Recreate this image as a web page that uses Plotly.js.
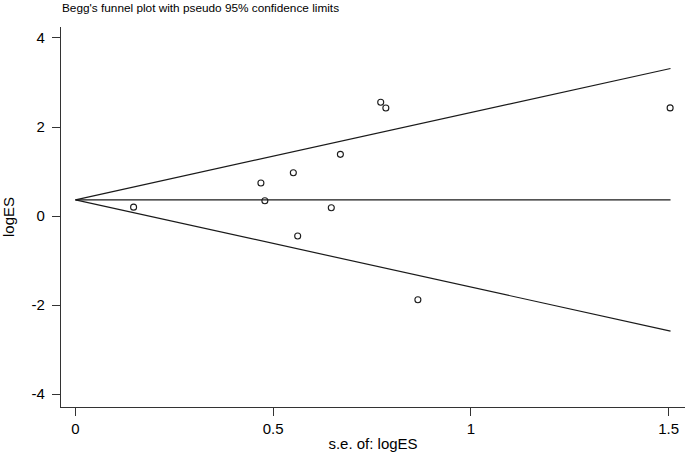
<!DOCTYPE html>
<html>
<head>
<meta charset="utf-8">
<script src="https://cdn.plot.ly/plotly-3.0.1.min.js"></script>
<style>html,body{margin:0;padding:0;background:#fff;}#chart{width:685px;height:452px;}</style>
</head>
<body>
<div id="chart"></div>
<script>
// Study standard errors and log effect sizes
const seLogES = [0.147, 0.469, 0.479, 0.551, 0.562, 0.647, 0.670, 0.772, 0.785, 0.866, 1.504];
const logES   = [0.20, 0.742, 0.344, 0.973, -0.449, 0.187, 1.386, 2.555, 2.427, -1.88, 2.43];

// Pseudo 95% confidence limits
const limitSE    = [0, 1.505];
const pooledLine = [0.365, 0.365];
const upperLimit = [0.365, 3.315];
const lowerLimit = [0.365, -2.585];

// Tick labels
const xTickVals = [0, 0.5, 1, 1.5];
const xTickText = ["0", "0.5", "1", "1.5"];
const yTickVals = [-4, -2, 0, 2, 4];
const yTickText = ["-4", "-2", "0", "2", "4"];

const lineStyle = {color: '#1a1a1a', width: 1.2};

const traces = [
  {x: limitSE, y: upperLimit, mode: 'lines', line: lineStyle, hoverinfo: 'skip'},
  {x: limitSE, y: pooledLine, mode: 'lines', line: lineStyle, hoverinfo: 'skip'},
  {x: limitSE, y: lowerLimit, mode: 'lines', line: lineStyle, hoverinfo: 'skip'},
  {x: seLogES, y: logES, mode: 'markers',
   marker: {symbol: 'circle-open', size: 6, color: '#1a1a1a', line: {width: 1.1, color: '#1a1a1a'}}}
];

const font = {family: '"Liberation Sans", Arial, sans-serif', color: '#000'};

const layout = {
  width: 685, height: 452,
  margin: {l: 61, r: 0, t: 27, b: 45, pad: 0},
  paper_bgcolor: '#fff', plot_bgcolor: '#fff',
  showlegend: false,
  font: Object.assign({size: 15}, font),
  title: {text: "Begg's funnel plot with pseudo 95% confidence limits",
          font: Object.assign({size: 11.8}, font),
          x: 62/685, xanchor: 'left', xref: 'container',
          y: 1 - 8/452, yanchor: 'middle', yref: 'container'},
  xaxis: {
    range: [-0.0366, 1.5416], showgrid: false, zeroline: false,
    showline: true, linecolor: '#333', linewidth: 1.2,
    ticks: 'outside', ticklen: 8, tickwidth: 1, tickcolor: '#333',
    tickvals: xTickVals, ticktext: xTickText,
    tickfont: Object.assign({size: 15}, font),
    title: {text: 's.e. of: logES', font: Object.assign({size: 15}, font), standoff: 4},
    automargin: false
  },
  yaxis: {
    range: [-4.29, 4.247], showgrid: false, zeroline: false,
    showline: true, linecolor: '#333', linewidth: 1.2,
    ticks: 'outside', ticklen: 8, tickwidth: 1, tickcolor: '#333',
    ticklabelstandoff: 4,
    tickvals: yTickVals, ticktext: yTickText,
    tickfont: Object.assign({size: 15}, font),
    title: {text: 'logES', font: Object.assign({size: 15}, font), standoff: 15},
    automargin: false
  }
};

Plotly.newPlot('chart', traces, layout, {displayModeBar: false, staticPlot: true});
</script>
</body>
</html>
